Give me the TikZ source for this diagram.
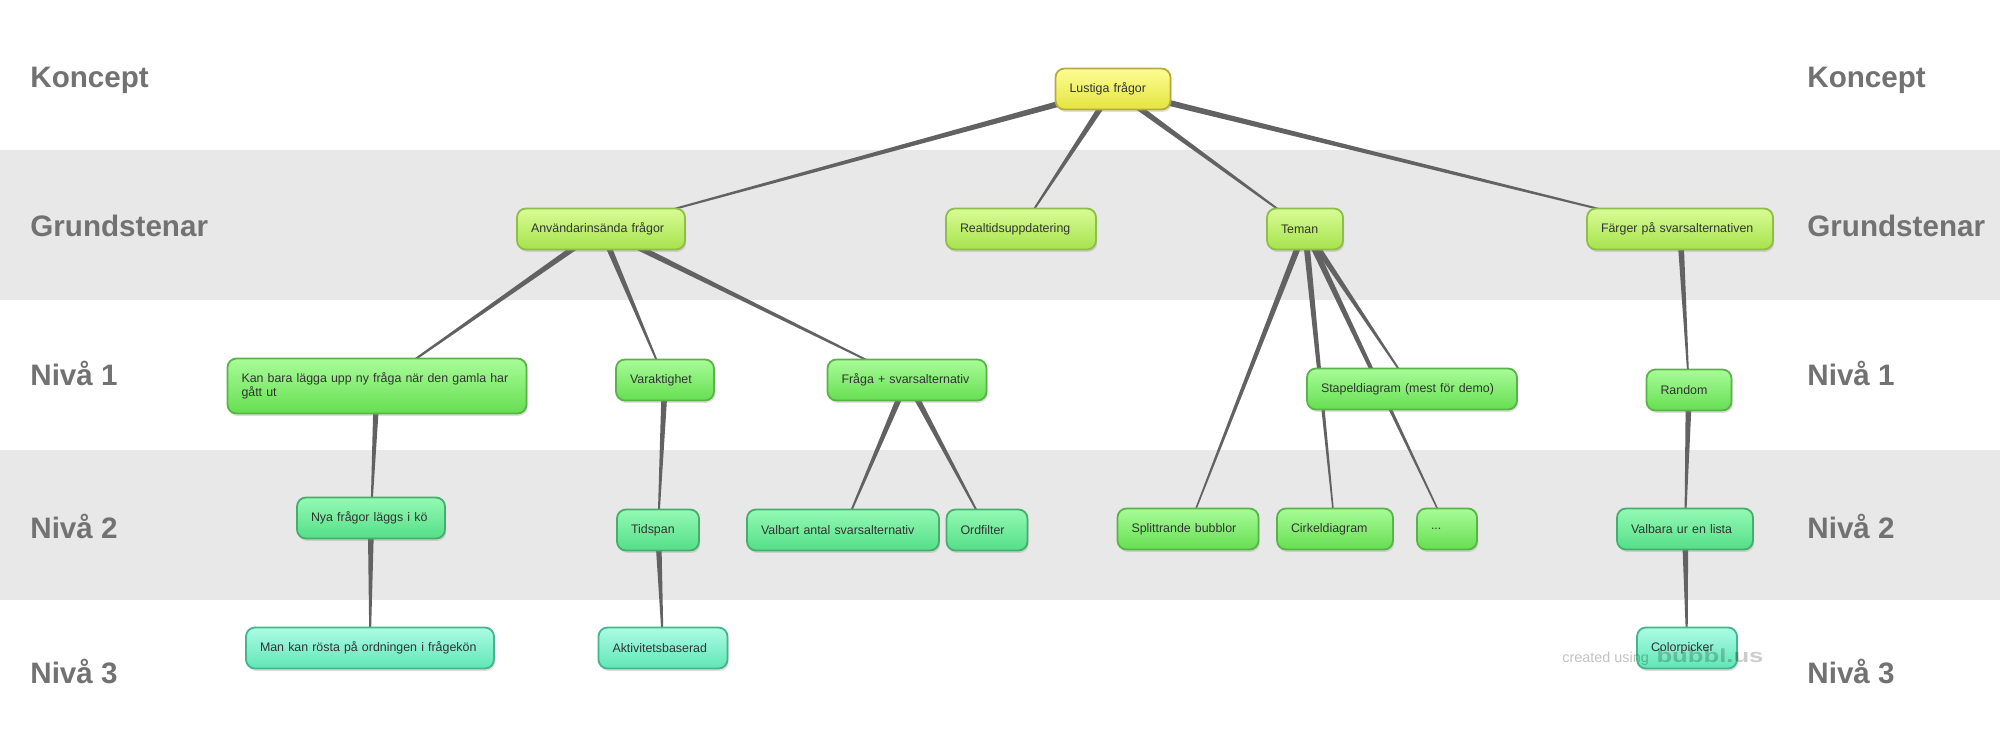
\documentclass[tikz,border=0pt]{standalone}
\usepackage{fontspec}
\setmainfont{Liberation Sans}
\usetikzlibrary{calc,shadows}
\pgfdeclarelayer{bands}
\pgfdeclarelayer{links}
\pgfsetlayers{bands,links,main}

\definecolor{band}{HTML}{E8E8E8}
\definecolor{lblc}{HTML}{727272}
\definecolor{txt}{HTML}{333333}
\definecolor{linkc}{HTML}{626262}
\definecolor{t0}{HTML}{FDFD94}\definecolor{u0}{HTML}{E4E440}\definecolor{b0}{HTML}{B4AC3C}
\definecolor{t1}{HTML}{D8FC96}\definecolor{u1}{HTML}{A6E24C}\definecolor{b1}{HTML}{8CBE48}
\definecolor{t2}{HTML}{A8FC98}\definecolor{u2}{HTML}{66DE52}\definecolor{b2}{HTML}{58B446}
\definecolor{t3}{HTML}{94FAB4}\definecolor{u3}{HTML}{54DE88}\definecolor{b3}{HTML}{46AE6C}
\definecolor{t4}{HTML}{ACFCE4}\definecolor{u4}{HTML}{60E6B6}\definecolor{b4}{HTML}{46B48C}

\tikzset{bub/.style={rounded corners=4.5pt, line width=0.9pt, inner xsep=7pt, inner ysep=2pt,
    minimum height=20.5pt, align=left, text=txt, font=\fontsize{6.2}{7}\selectfont,
    drop shadow={shadow xshift=0.6pt, shadow yshift=-1.2pt, opacity=0.25}}}
\tikzset{d0/.style={bub, draw=b0, top color=t0, bottom color=u0}}
\tikzset{d1/.style={bub, draw=b1, top color=t1, bottom color=u1}}
\tikzset{d2/.style={bub, draw=b2, top color=t2, bottom color=u2}}
\tikzset{d3/.style={bub, draw=b3, top color=t3, bottom color=u3}}
\tikzset{d4/.style={bub, draw=b4, top color=t4, bottom color=u4}}

\begin{document}
\begin{tikzpicture}[x=0.5pt, y=-0.5pt,
    lbl/.style={anchor=base west, inner sep=0pt, text=lblc, font=\bfseries\fontsize{14.8}{16}\selectfont}]
    \useasboundingbox (0,0) rectangle (2000,750);
    \begin{pgfonlayer}{bands}
        \fill[white] (0,0) rectangle (2000,750);
        \fill[band] (0,150) rectangle (2000,300);
        \fill[band] (0,450) rectangle (2000,600);
    \end{pgfonlayer}

    \foreach \t/\y [count=\i] in {Koncept/87, Grundstenar/236, Nivå 1/385, Nivå 2/538, Nivå 3/683} {
        \node[lbl] (l\i) at (30,\y) {\t};
        \node[lbl] (r\i) at (1807,\y) {\t};
    }

    \node[d0, text width=43.5pt] (lust) at (1113,89) {Lustiga frågor};

    \node[d1, text width=70pt] (anv) at (601,229) {Användarinsända frågor};
    \node[d1, text width=61pt] (real) at (1021,229) {Realtidsuppdatering};
    \node[d1, text width=24pt] (teman) at (1305,229) {Teman};
    \node[d1, text width=79pt] (farg) at (1680,229) {Färger på svarsalternativen};

    \node[d2, text width=135.5pt, minimum height=27.5pt] (kan) at (377,386) {Kan bara lägga upp ny fråga när den gamla har\\gått ut};
    \node[d2, text width=35pt] (var) at (665,380) {Varaktighet};
    \node[d2, text width=65.5pt] (fraga) at (907,380) {Fråga + svarsalternativ};
    \node[d2, text width=91pt] (stap) at (1412,389) {Stapeldiagram (mest för demo)};
    \node[d2, text width=28.5pt] (random) at (1689,390) {Random};

    \node[d3, text width=60pt] (nya) at (371,518) {Nya frågor läggs i kö};
    \node[d3, text width=27pt] (tid) at (658,530) {Tidspan};
    \node[d3, text width=82pt] (valbart) at (843,530) {Valbart antal svarsalternativ};
    \node[d3, text width=26.5pt] (ord) at (987,530) {Ordfilter};
    \node[d2, text width=56.5pt] (split) at (1188,529) {Splittrande bubblor};
    \node[d2, text width=44pt] (cirkel) at (1335,529) {Cirkeldiagram};
    \node[d2, text width=16pt] (dots) at (1447,529) {...};
    \node[d3, text width=54pt] (valbara) at (1685,529) {Valbara ur en lista};

    \node[d4, text width=110pt] (man) at (370,648) {Man kan rösta på ordningen i frågekön};
    \node[d4, text width=50.5pt] (akt) at (663,648) {Aktivitetsbaserad};
    \node[d4, text width=36pt] (color) at (1687,648) {Colorpicker};

    % watermark
    \node[anchor=base west, inner sep=0pt, text=black, text opacity=0.24, font=\fontsize{7.2}{8}\selectfont] (wm1) at (1562,662) {created using};
    \node[anchor=base west, inner sep=0pt, text=black, text opacity=0.2, font=\bfseries\fontsize{9.5}{10}\selectfont, xscale=1.35] (wm2) at (1656,662) {bubbl.us};

    \begin{pgfonlayer}{links}
        \foreach \p/\c in {lust/anv, lust/real, lust/teman, lust/farg,
                anv/kan, anv/var, anv/fraga, kan/nya, nya/man, var/tid, tid/akt,
                fraga/valbart, fraga/ord, teman/split, teman/stap, teman/cirkel, teman/dots,
                farg/random, random/valbara, valbara/color}
            \fill[linkc] ($(\p)!1.6pt!90:(\c)$) -- ($(\c)!0.3pt!-90:(\p)$)
                -- ($(\c)!0.3pt!90:(\p)$) -- ($(\p)!1.6pt!-90:(\c)$) -- cycle;
    \end{pgfonlayer}
\end{tikzpicture}
\end{document}
